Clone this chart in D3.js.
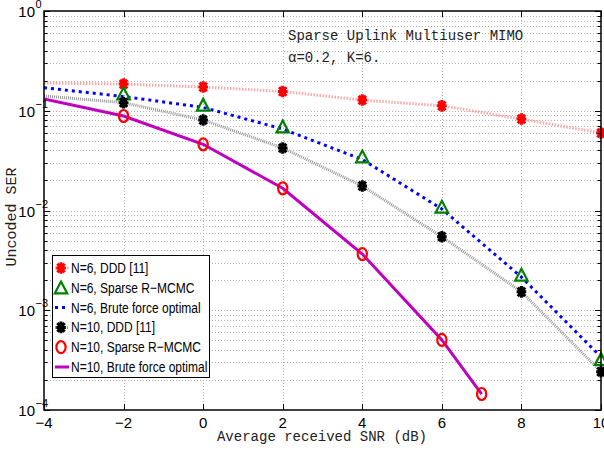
<!DOCTYPE html>
<html>
<head>
<meta charset="utf-8">
<script src="https://d3js.org/d3.v7.min.js"></script>
<style>
    body { margin: 0; background: #fff; }
    .grid line { stroke: #b4b4b4; stroke-width: 1; stroke-dasharray: 1,2; }
    .tick-label { font-family: "Liberation Sans", Arial, sans-serif; font-size: 15px; fill: #000; }
    .mono { font-family: "Liberation Mono", "DejaVu Sans Mono", monospace; font-size: 14px; fill: #222; }
    .legend-text { font-family: "Liberation Sans", Arial, sans-serif; font-size: 15px; fill: #000; }
</style>
</head>
<body>
<svg id="chart" width="604" height="450"></svg>
<script>
// SNR axis values (dB)
const snrAll = [-4, -2, 0, 2, 4, 6, 8, 10];
const snrN10 = [-4, -2, 0, 2, 4, 6, 7];
const xTicks = [-4, -2, 0, 2, 4, 6, 8, 10];
const yTickExp = [0, -1, -2, -3, -4];

// SER values (null = no point)
const n6Ddd   = [0.190, 0.185, 0.173, 0.156, 0.128, 0.112, 0.0826, 0.0598];
const n6Mcmc  = [null, 0.148, 0.114, 0.0692, 0.0346, 0.01084, 0.002255, 0.000322];
const n6Opt   = [0.170, 0.139, 0.108, 0.0656, 0.0325, 0.01035, 0.00215, 0.00034];
const n10Ddd  = [0.1406, 0.1205, 0.0807, 0.0423, 0.0176, 0.00546, 0.00153, 0.000242];
const n10Mcmc = [null, 0.0886, 0.0461, 0.0167, 0.00366, 0.000504, 0.0001446];
const n10Opt  = [0.131, 0.0886, 0.0461, 0.0167, 0.00366, 0.000504, 0.0001446];

const legendLabels = ["N=6, DDD [11]", "N=6, Sparse R\u2212MCMC", "N=6, Brute force optimal",
                      "N=10, DDD [11]", "N=10, Sparse R\u2212MCMC", "N=10, Brute force optimal"];

const svg = d3.select("#chart");
const plot = { left: 44, right: 601, top: 11, bottom: 410 };

const x = d3.scaleLinear().domain([-4, 10]).range([plot.left, plot.right]);
const y = d3.scaleLog().domain([1e-4, 1]).range([plot.bottom, plot.top]);

svg.append("defs").append("clipPath").attr("id", "clip")
    .append("rect")
    .attr("x", plot.left).attr("y", plot.top)
    .attr("width", plot.right - plot.left).attr("height", plot.bottom - plot.top);

// grid
const yAll = [];
for (let e = -4; e < 0; e++) {
    for (let m = 1; m <= 9; m++) yAll.push(m * Math.pow(10, e));
}
yAll.push(1);

const grid = svg.append("g").attr("class", "grid");
grid.selectAll("line.h").data(yAll.filter(v => v > 1e-4 && v < 1))
    .join("line").attr("class", "h")
    .attr("x1", plot.left).attr("x2", plot.right)
    .attr("y1", d => Math.round(y(d)) + 0.5).attr("y2", d => Math.round(y(d)) + 0.5);
grid.selectAll("line.v").data(xTicks.slice(1, -1))
    .join("line").attr("class", "v")
    .attr("y1", plot.top).attr("y2", plot.bottom)
    .attr("x1", d => Math.round(x(d)) + 0.5).attr("x2", d => Math.round(x(d)) + 0.5);

// series
const lineGen = d3.line().defined(d => d[1] != null).x(d => x(d[0])).y(d => y(d[1]));
const series = [
    { xs: snrAll, ys: n6Ddd, line: { stroke: "#ffa8a8", width: 3, dash: "1.5,1.5" }, marker: "star", color: "#ff0000" },
    { xs: snrAll, ys: n6Mcmc, line: null, marker: "tri", color: "#008000" },
    { xs: snrAll, ys: n6Opt, line: { stroke: "#0000ff", width: 3, dash: "3,4" }, marker: null },
    { xs: snrAll, ys: n10Ddd, line: { stroke: "#999999", width: 3, dash: "1,1" }, marker: "star", color: "#000000" },
    { xs: snrN10, ys: n10Mcmc, line: null, marker: "circ", color: "#ff0000" },
    { xs: snrN10, ys: n10Opt, line: { stroke: "#bf00bf", width: 3, dash: null }, marker: null }
];

function drawMarker(g, type, color, cx, cy) {
    if (type === "star") {
        const rx = 4.8, ry = 5.8;
        const p = d3.path();
        p.moveTo(cx - rx, cy); p.lineTo(cx + rx, cy);
        p.moveTo(cx, cy - ry); p.lineTo(cx, cy + ry);
        p.moveTo(cx - rx * 0.75, cy - ry * 0.75); p.lineTo(cx + rx * 0.75, cy + ry * 0.75);
        p.moveTo(cx - rx * 0.75, cy + ry * 0.75); p.lineTo(cx + rx * 0.75, cy - ry * 0.75);
        g.append("path").attr("d", p.toString()).attr("stroke", color).attr("stroke-width", 3).attr("fill", "none");
        g.append("ellipse").attr("cx", cx).attr("cy", cy).attr("rx", 3.2).attr("ry", 4.2).attr("fill", color);
    } else if (type === "tri") {
        const s = 6.2;
        g.append("path")
            .attr("d", `M${cx},${cy - s}L${cx + s},${cy + s * 0.9}L${cx - s},${cy + s * 0.9}Z`)
            .attr("fill", "none").attr("stroke", color).attr("stroke-width", 2.2);
    } else if (type === "circ") {
        g.append("ellipse").attr("cx", cx).attr("cy", cy).attr("rx", 4.6).attr("ry", 6)
            .attr("fill", "none").attr("stroke", color).attr("stroke-width", 2.2);
    }
}

const dataG = svg.append("g").attr("clip-path", "url(#clip)");
series.forEach(s => {
    const pts = s.xs.map((v, i) => [v, s.ys[i]]);
    if (s.line) {
        dataG.append("path").datum(pts)
            .attr("d", lineGen)
            .attr("fill", "none")
            .attr("stroke", s.line.stroke)
            .attr("stroke-width", s.line.width)
            .attr("stroke-dasharray", s.line.dash);
    }
    if (s.marker) {
        const mg = svg.append("g");
        pts.filter(d => d[1] != null && d[0] > -4)
            .forEach(d => drawMarker(mg, s.marker, s.color, x(d[0]), y(d[1])));
    }
});

// frame and ticks
const axes = svg.append("g").attr("stroke", "#000").attr("fill", "none");
axes.append("rect")
    .attr("x", plot.left).attr("y", plot.top)
    .attr("width", plot.right - plot.left).attr("height", plot.bottom - plot.top)
    .attr("stroke-width", 1.5);
xTicks.forEach(t => {
    const px = Math.round(x(t)) + 0.5;
    axes.append("line").attr("x1", px).attr("x2", px).attr("y1", plot.bottom).attr("y2", plot.bottom - 6);
    axes.append("line").attr("x1", px).attr("x2", px).attr("y1", plot.top).attr("y2", plot.top + 6);
});
yAll.forEach(v => {
    const py = Math.round(y(v)) + 0.5;
    const major = Math.abs(Math.log10(v) - Math.round(Math.log10(v))) < 1e-9;
    const len = major ? 6 : 3.5;
    axes.append("line").attr("x1", plot.left).attr("x2", plot.left + len).attr("y1", py).attr("y2", py);
    axes.append("line").attr("x1", plot.right).attr("x2", plot.right - len).attr("y1", py).attr("y2", py);
});

// tick labels
svg.selectAll("text.xt").data(xTicks).join("text")
    .attr("class", "tick-label xt")
    .attr("x", d => x(d)).attr("y", 428)
    .attr("text-anchor", "middle")
    .text(d => d < 0 ? "\u2212" + Math.abs(d) : d);

const yl = svg.selectAll("g.yt").data(yTickExp).join("g")
    .attr("class", "yt")
    .attr("transform", d => `translate(35,${y(Math.pow(10, d))})`);
yl.append("text").attr("class", "tick-label").attr("y", 6).attr("text-anchor", "end").text("10");
yl.append("text").attr("class", "tick-label").attr("x", 0.5).attr("y", -3)
    .style("font-size", "11px")
    .text(d => d < 0 ? "\u2212" + Math.abs(d) : d);

// axis titles
svg.append("text").attr("class", "mono")
    .attr("x", 322).attr("y", 441).attr("text-anchor", "middle")
    .text("Average received SNR (dB)");
svg.append("text").attr("class", "mono")
    .style("font-size", "15px")
    .attr("transform", "translate(16,217) rotate(-90)")
    .attr("text-anchor", "middle")
    .text("Uncoded SER");

// annotation
svg.append("text").attr("class", "mono").attr("x", 288).attr("y", 40).text("Sparse Uplink Multiuser MIMO");
svg.append("text").attr("class", "mono").attr("x", 288).attr("y", 62).text("\u03b1=0.2, K=6.");

// legend
const leg = svg.append("g");
leg.append("rect").attr("x", 52.5).attr("y", 255.5).attr("width", 157).attr("height", 122)
    .attr("fill", "#fff").attr("stroke", "#000").attr("stroke-width", 1);
series.forEach((s, i) => {
    const ry = 268 + i * 19.8;
    if (s.line) {
        leg.append("line").attr("x1", 55).attr("x2", 69).attr("y1", ry).attr("y2", ry)
            .attr("stroke", s.line.stroke).attr("stroke-width", s.line.width)
            .attr("stroke-dasharray", s.line.dash);
    }
    if (s.marker) drawMarker(leg, s.marker, s.color, 61, ry);
    leg.append("text").attr("class", "legend-text")
        .attr("transform", `translate(71,${ry + 5}) scale(0.8,1)`)
        .text(legendLabels[i]);
});
</script>
</body>
</html>
